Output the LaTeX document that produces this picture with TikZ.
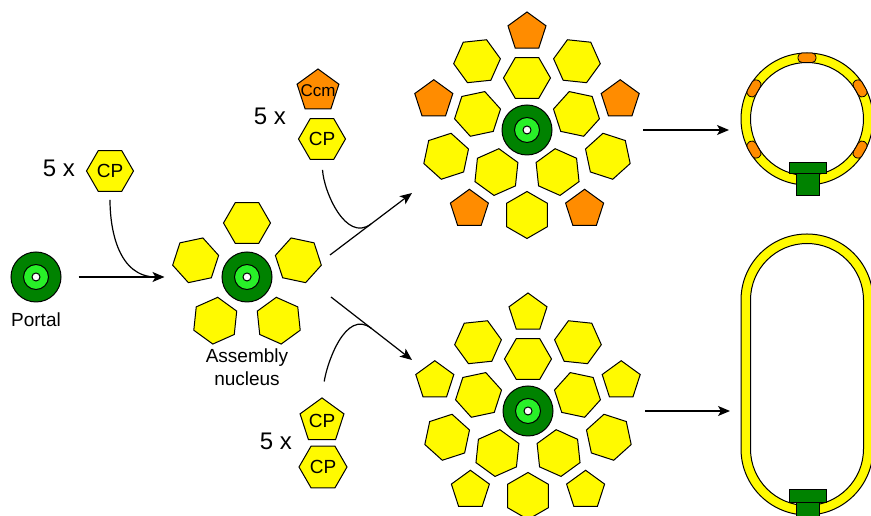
\documentclass[tikz,border=0pt]{standalone}
\usepackage{fontspec}
\setmainfont{Liberation Sans}
\usetikzlibrary{arrows.meta,calc,shapes.geometric}

\definecolor{capsid}{RGB}{255,250,0}
\definecolor{ccm}{RGB}{255,140,0}
\definecolor{portaldark}{RGB}{0,130,0}
\definecolor{portallight}{RGB}{40,240,40}

\tikzset{
  hexa/.style={regular polygon, regular polygon sides=6, draw, line width=1pt,
    fill=capsid, minimum size=47pt, inner sep=0pt},
  penta/.style={regular polygon, regular polygon sides=5, draw, line width=1pt,
    fill=capsid, minimum size=40pt, inner sep=0pt},
  portal/.style={circle, draw, line width=1pt, fill=portaldark, minimum size=50pt,
    inner sep=0pt, path picture={
      \draw[line width=1pt, fill=portallight] (path picture bounding box.center) circle (12.5pt);
      \draw[line width=1pt, fill=white] (path picture bounding box.center) circle (4pt);}},
  blob/.style={rectangle, rounded corners=4pt, draw, line width=0.8pt, fill=ccm,
    minimum width=18pt, minimum height=9.5pt, inner sep=0pt},
  flow/.style={-{Stealth[length=12pt,width=10pt,inset=3pt]}, line width=1.2pt},
  txt/.style={font=\fontsize{19}{23}\selectfont},
  big/.style={font=\fontsize{24}{28}\selectfont},
}

\begin{document}
\begin{tikzpicture}[x=1pt, y=1pt]
    \useasboundingbox (0,0) rectangle (871,516);

    % portal and the assembly nucleus
    \node[portal] (portal) at (36,239) {};
    \node[txt] (portallbl) at (36,196) {Portal};

    \node[portal] (nuc) at (247,239) {};
    \foreach \k [evaluate=\k as \r using int(72*\k)] in {0,...,4}
        \node[hexa, regular polygon rotate=\r] (nuc-\k) at ($(nuc)+(90+72*\k:54)$) {};
    \node[txt, align=center] (nuclbl) at (247,149) {Assembly\\nucleus};

    \node[big] (fivea) at (59,348) {5 x};
    \node[hexa, txt] (cpa) at (110,345) {CP};

    \draw[flow, shorten <=17pt, shorten >=57pt] (portal) -- (nuc);
    \coordinate (j0) at (156,239);
    \draw[line width=1.2pt, shorten <=8pt] (cpa.south) to[out=-90, in=180] (j0);

    % subunits for the two branches
    \node[big] (fiveb) at (270,400) {5 x};
    \node[penta, fill=ccm, minimum size=44pt, font=\fontsize{17}{20}\selectfont] (ccmb) at (318,425) {\makebox[0pt]{Ccm}};
    \node[hexa, txt] (cpb) at (322,377) {CP};

    \node[big] (fivec) at (276,75) {5 x};
    \node[penta, txt, minimum size=39pt] (cpc) at (322,95) {CP};
    \node[hexa, txt, minimum size=48pt] (cpd) at (323,49) {CP};

    \coordinate (u0) at (330,261);
    \coordinate (u1) at (412,323);
    \coordinate (u2) at ($(u0)!0.5!(u1)$);
    \draw[flow] (u0) -- (u1);
    \draw[line width=1.2pt, shorten <=10pt] (cpb.south) to[out=-87, in=217] (u2);

    \coordinate (d0) at (331,219);
    \coordinate (d1) at (412,156);
    \coordinate (d2) at ($(d0)!0.5!(d1)$);
    \draw[flow] (d0) -- (d1);
    \draw[line width=1.2pt, shorten <=16pt] (cpc.north) to[out=82, in=142] (d2);

    % procapsid with Ccm
    \node[portal] (ca) at (527,386) {};
    \foreach \k [evaluate=\k as \r using int(72*\k), evaluate=\k as \s using int(72*\k+66)] in {0,...,4} {
        \node[hexa, regular polygon rotate=\r] (ca-in\k) at ($(ca)+(90+72*\k:52)$) {};
        \node[hexa, regular polygon rotate=\s] (ca-out\k) at ($(ca)+(126+72*\k:85)$) {};
        \node[penta, fill=ccm] (ca-pe\k) at ($(ca)+(90+72*\k:98)$) {};
    }

    % procapsid without Ccm
    \node[portal] (cb) at (528,105) {};
    \foreach \k [evaluate=\k as \r using int(72*\k), evaluate=\k as \s using int(72*\k+66)] in {0,...,4} {
        \node[hexa, regular polygon rotate=\r] (cb-in\k) at ($(cb)+(90+72*\k:52)$) {};
        \node[hexa, regular polygon rotate=\s] (cb-out\k) at ($(cb)+(126+72*\k:85)$) {};
        \node[penta] (cb-pe\k) at ($(cb)+(90+72*\k:98)$) {};
    }

    \coordinate (ra0) at (643,386);
    \coordinate (ra1) at (729,386);
    \draw[flow] (ra0) -- (ra1);
    \coordinate (rb0) at (645,105);
    \draw[flow] (rb0) -- ++(85,0) coordinate (rb1);

    % round shell
    \coordinate (ringa) at (807,397);
    \filldraw[fill=capsid, even odd rule, line width=1pt]
        (ringa) circle (66) (ringa) circle (56.5);
    \foreach \a [evaluate=\a as \t using int(\a-90)] in {30,90,150,210,330}
        \node[blob, rotate=\t] (blob\a) at ($(ringa)+(\a:61.25)$) {};
    \filldraw[fill=portaldark, line width=1pt] ($(ringa)+(-11,-77)$) rectangle ($(ringa)+(12,-55)$);
    \filldraw[fill=portaldark, line width=1pt] ($(ringa)+(-18,-55)$) rectangle ($(ringa)+(19,-44)$);

    % elongated shell
    \coordinate (ringb) at (807,216);
    \filldraw[fill=capsid, even odd rule, line width=1pt]
        ($(ringb)+(-66,0)$) arc[start angle=180, end angle=0, radius=66] -- ++(0,-149)
            arc[start angle=0, end angle=-180, radius=66] -- cycle
        ($(ringb)+(-56.5,0)$) arc[start angle=180, end angle=0, radius=56.5] -- ++(0,-149)
            arc[start angle=0, end angle=-180, radius=56.5] -- cycle;
    \filldraw[fill=portaldark, line width=1pt] ($(ringb)+(-11,-227)$) rectangle ($(ringb)+(12,-203)$);
    \filldraw[fill=portaldark, line width=1pt] ($(ringb)+(-18,-203)$) rectangle ($(ringb)+(19,-190)$);
\end{tikzpicture}
\end{document}
